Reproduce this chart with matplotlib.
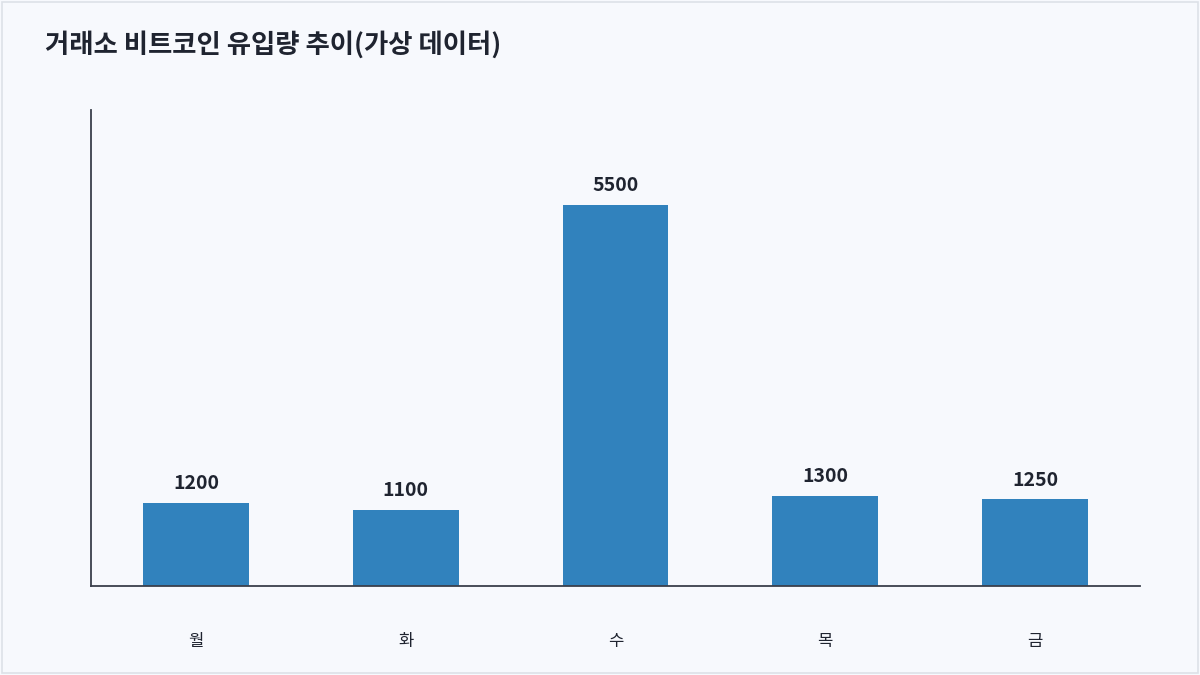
import matplotlib
matplotlib.use("Agg")
import matplotlib.pyplot as plt
from matplotlib.patches import Rectangle

plt.rcParams['font.family'] = ['Noto Sans CJK KR', 'DejaVu Sans']

days = ['월', '화', '수', '목', '금']
inflow = [1200, 1100, 5500, 1300, 1250]
title = '거래소 비트코인 유입량 추이(가상 데이터)'

bg = '#F7F9FD'
fig = plt.figure(figsize=(12, 6.75), dpi=100, facecolor=bg)
fig.patches.append(Rectangle((0.002, 0.003), 0.996, 0.994, transform=fig.transFigure,
                             fill=False, edgecolor='#DDE1E8', linewidth=1.2))
ax = fig.add_axes([91/1200, 1-586/675, 1049/1200, 476/675])
ax.set_facecolor(bg)
x = range(len(days))
bars = ax.bar(x, inflow, width=0.505, color='#3182BD')
for xi, v in zip(x, inflow):
    ax.text(xi, v + 140, str(v), ha='center', va='bottom', fontsize=14,
            fontweight='bold', color='#1F2430')
ax.set_xlim(-0.5, 4.5)
ax.set_ylim(0, 6870)
ax.set_xticks(list(x))
ax.set_xticklabels(days, fontsize=12, color='#1F2430')
ax.tick_params(axis='x', length=0, pad=34)
ax.set_yticks([])
for s in ['top', 'right']:
    ax.spines[s].set_visible(False)
for s in ['left', 'bottom']:
    ax.spines[s].set_color('#3A3F4B')
    ax.spines[s].set_linewidth(1.3)
fig.text(45/1200, 1-45/675, title, fontsize=19, fontweight='bold',
         color='#1F2430', va='center', ha='left')
fig.savefig('out.png', dpi=100, facecolor=bg)
